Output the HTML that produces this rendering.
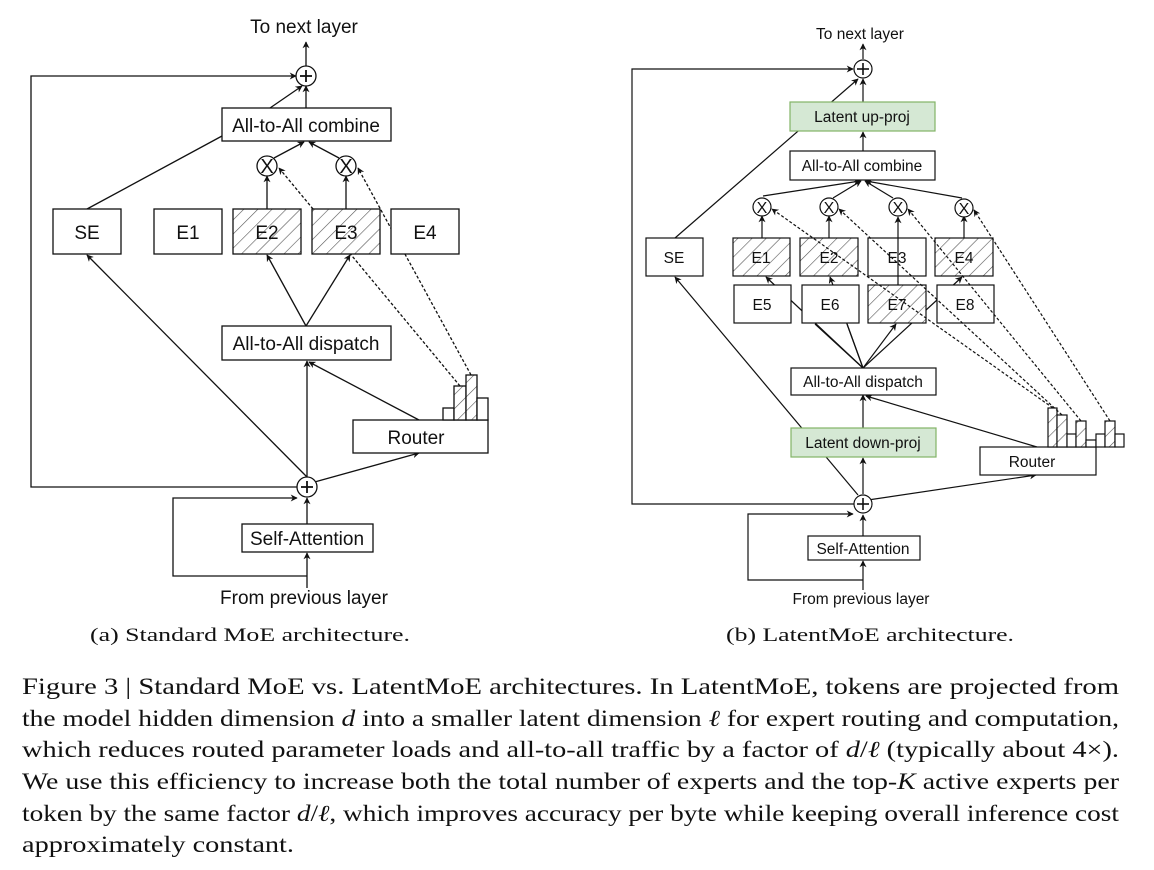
<!DOCTYPE html>
<html><head><meta charset="utf-8"><style>
html,body{margin:0;padding:0;background:#fff;}
svg{display:block;}
.s{font-family:"Liberation Sans",sans-serif;fill:#111;}
.t{font-family:"Liberation Serif",serif;fill:#111;font-size:23px;}
</style></head><body>
<svg width="1154" height="870" viewBox="0 0 1154 870" xmlns="http://www.w3.org/2000/svg">
<defs>
<marker id="a" viewBox="0 0 10 10" refX="9" refY="5" markerWidth="7" markerHeight="7" orient="auto-start-reverse" markerUnits="userSpaceOnUse">
<path d="M0,0 L10,5 L0,10 L3,5 z" fill="#111"/></marker>
<pattern id="h" patternUnits="userSpaceOnUse" width="10" height="10" patternTransform="rotate(45)">
<rect width="10" height="10" fill="#fff"/><line x1="0" y1="0" x2="0" y2="10" stroke="#555" stroke-width="1.2"/></pattern>
</defs>
<g stroke="#111" stroke-width="1.3" fill="none">
<line x1="306" y1="66" x2="306" y2="42" marker-end="url(#a)"/>
<polyline points="306,487 31,487 31,76 296,76" marker-end="url(#a)"/>
<line x1="87" y1="209" x2="222" y2="136"/>
<line x1="270" y1="108" x2="302" y2="86" marker-end="url(#a)"/>
<line x1="306" y1="108" x2="306" y2="86" marker-end="url(#a)"/>
<line x1="274" y1="158" x2="304" y2="142" marker-end="url(#a)"/>
<line x1="339" y1="158" x2="309" y2="142" marker-end="url(#a)"/>
<line x1="267" y1="209" x2="267" y2="176" marker-end="url(#a)"/>
<line x1="346" y1="209" x2="346" y2="176" marker-end="url(#a)"/>
<line x1="306" y1="326" x2="267" y2="255" marker-end="url(#a)"/>
<line x1="306" y1="326" x2="350" y2="255" marker-end="url(#a)"/>
<line x1="307" y1="477" x2="87" y2="255" marker-end="url(#a)"/>
<line x1="307" y1="477" x2="307" y2="361" marker-end="url(#a)"/>
<line x1="311" y1="483" x2="419" y2="453" marker-end="url(#a)"/>
<line x1="419" y1="420" x2="309" y2="362" marker-end="url(#a)"/>
<line x1="460" y1="386" x2="279" y2="168" stroke-dasharray="3,2" marker-end="url(#a)"/>
<line x1="471" y1="375" x2="358" y2="168" stroke-dasharray="3,2" marker-end="url(#a)"/>
<line x1="307" y1="524" x2="307" y2="498" marker-end="url(#a)"/>
<polyline points="307,576 173,576 173,498 297,498" marker-end="url(#a)"/>
<line x1="307" y1="588" x2="307" y2="553" marker-end="url(#a)"/>
</g>
<g stroke="#111" stroke-width="1.3">
<rect x="222" y="108" width="169" height="33" fill="#fff"/>
<rect x="53" y="209" width="68" height="45" fill="#fff"/>
<rect x="154" y="209" width="68" height="45" fill="#fff"/>
<rect x="233" y="209" width="68" height="45" fill="url(#h)"/>
<rect x="312" y="209" width="68" height="45" fill="url(#h)"/>
<rect x="391" y="209" width="68" height="45" fill="#fff"/>
<rect x="222" y="326" width="169" height="34" fill="#fff"/>
<rect x="353" y="420" width="135" height="33" fill="#fff"/>
<rect x="443" y="408" width="11" height="12" fill="#fff"/>
<rect x="454" y="386" width="12" height="34" fill="url(#h)"/>
<rect x="466" y="375" width="11" height="45" fill="url(#h)"/>
<rect x="477" y="398" width="11" height="22" fill="#fff"/>
<rect x="242" y="524" width="131" height="28" fill="#fff"/>
<circle cx="306" cy="76" r="10" fill="#fff"/>
<circle cx="307" cy="487" r="10" fill="#fff"/>
<circle cx="267" cy="166" r="10" fill="#fff"/>
<circle cx="346" cy="166" r="10" fill="#fff"/>
</g>
<g stroke="#111" stroke-width="1.8">
<line x1="300" y1="76" x2="312" y2="76"/><line x1="306" y1="70" x2="306" y2="82"/>
<line x1="301" y1="487" x2="313" y2="487"/><line x1="307" y1="481" x2="307" y2="493"/>
</g>
<g class="s" font-size="19" text-anchor="middle">
<text x="304" y="33">To next layer</text>
<text x="267" y="173" font-size="20">X</text><text x="346" y="173" font-size="20">X</text>
<text x="306" y="132">All-to-All combine</text>
<text x="87" y="239">SE</text><text x="188" y="239">E1</text><text x="267" y="239">E2</text><text x="346" y="239">E3</text><text x="425" y="239">E4</text>
<text x="306" y="350">All-to-All dispatch</text>
<text x="416" y="444">Router</text>
<text x="307" y="545">Self-Attention</text>
<text x="304" y="604">From previous layer</text>
</g>

<!-- RIGHT -->
<g stroke="#111" stroke-width="1.2" fill="none">
<line x1="863" y1="59" x2="863" y2="44" marker-end="url(#a)"/>
<polyline points="863,504 632,504 632,69 853,69" marker-end="url(#a)"/>
<line x1="675" y1="238" x2="858" y2="79" marker-end="url(#a)"/>
<line x1="863" y1="102" x2="863" y2="79" marker-end="url(#a)"/>
<line x1="863" y1="151" x2="863" y2="132" marker-end="url(#a)"/>
<line x1="763" y1="196" x2="860" y2="181" marker-end="url(#a)"/>
<line x1="833" y1="198" x2="861" y2="181" marker-end="url(#a)"/>
<line x1="893" y1="198" x2="865" y2="181" marker-end="url(#a)"/>
<line x1="962" y1="198" x2="866" y2="181" marker-end="url(#a)"/>
<line x1="762" y1="238" x2="762" y2="216" marker-end="url(#a)"/>
<line x1="829" y1="238" x2="829" y2="216" marker-end="url(#a)"/>
<line x1="964" y1="238" x2="964" y2="216" marker-end="url(#a)"/>
<line x1="863" y1="368" x2="766" y2="277" marker-end="url(#a)"/>
<line x1="863" y1="368" x2="830" y2="277" marker-end="url(#a)"/>
<line x1="863" y1="368" x2="962" y2="277" marker-end="url(#a)"/>
<line x1="863" y1="368" x2="815" y2="324"/>
<line x1="863" y1="368" x2="847" y2="324"/>
<line x1="863" y1="368" x2="896" y2="324" marker-end="url(#a)"/>
<line x1="858" y1="495" x2="675" y2="277" marker-end="url(#a)"/>
<line x1="863" y1="494" x2="863" y2="458" marker-end="url(#a)"/>
<line x1="863" y1="428" x2="863" y2="395" marker-end="url(#a)"/>
<line x1="868" y1="500" x2="1036" y2="475" marker-end="url(#a)"/>
<line x1="1037" y1="447" x2="866" y2="396" marker-end="url(#a)"/>
<line x1="863" y1="536" x2="863" y2="515" marker-end="url(#a)"/>
<polyline points="863,580 748,580 748,514 853,514" marker-end="url(#a)"/>
<line x1="863" y1="590" x2="863" y2="561" marker-end="url(#a)"/>
</g>
<g stroke="#111" stroke-width="1.2">
<rect x="790" y="102" width="145" height="29" fill="#d5e8d4" stroke="#82b366"/>
<rect x="790" y="151" width="145" height="29" fill="#fff"/>
<rect x="646" y="238" width="57" height="38" fill="#fff"/>
<rect x="733" y="238" width="57" height="38" fill="url(#h)"/>
<rect x="800" y="238" width="58" height="38" fill="url(#h)"/>
<rect x="868" y="238" width="58" height="38" fill="#fff"/>
<rect x="935" y="238" width="58" height="38" fill="url(#h)"/>
<rect x="734" y="285" width="57" height="38" fill="#fff"/>
<rect x="802" y="285" width="57" height="38" fill="#fff"/>
<rect x="868" y="285" width="58" height="38" fill="url(#h)"/>
<rect x="937" y="285" width="57" height="38" fill="#fff"/>
<rect x="791" y="368" width="145" height="27" fill="#fff"/>
<rect x="791" y="428" width="145" height="29" fill="#d5e8d4" stroke="#82b366"/>
<rect x="980" y="447" width="116" height="28" fill="#fff"/>
<rect x="808" y="536" width="112" height="24" fill="#fff"/>
<rect x="1048" y="408" width="9" height="39" fill="url(#h)"/>
<rect x="1057" y="415" width="10" height="32" fill="url(#h)"/>
<rect x="1067" y="434" width="9" height="13" fill="#fff"/>
<rect x="1076" y="421" width="10" height="26" fill="url(#h)"/>
<rect x="1086" y="440" width="10" height="7" fill="#fff"/>
<rect x="1096" y="434" width="9" height="13" fill="#fff"/>
<rect x="1105" y="421" width="10" height="26" fill="url(#h)"/>
<rect x="1115" y="434" width="9" height="13" fill="#fff"/>
<circle cx="863" cy="69" r="9" fill="#fff"/>
<circle cx="863" cy="504" r="9" fill="#fff"/>
<circle cx="762" cy="207" r="9" fill="#fff"/>
<circle cx="829" cy="207" r="9" fill="#fff"/>
<circle cx="898" cy="207" r="9" fill="#fff"/>
<circle cx="964" cy="208" r="9" fill="#fff"/>
</g>
<g stroke="#111" stroke-width="1.2" fill="none">
<line x1="898" y1="285" x2="898" y2="217" marker-end="url(#a)"/>
<line x1="1053" y1="408" x2="772" y2="209" stroke-dasharray="3,2" marker-end="url(#a)"/>
<line x1="1062" y1="415" x2="839" y2="209" stroke-dasharray="3,2" marker-end="url(#a)"/>
<line x1="1081" y1="421" x2="908" y2="209" stroke-dasharray="3,2" marker-end="url(#a)"/>
<line x1="1110" y1="421" x2="974" y2="210" stroke-dasharray="3,2" marker-end="url(#a)"/>
</g>
<g stroke="#111" stroke-width="1.6">
<line x1="857" y1="69" x2="869" y2="69"/><line x1="863" y1="63" x2="863" y2="75"/>
<line x1="857" y1="504" x2="869" y2="504"/><line x1="863" y1="498" x2="863" y2="510"/>
</g>
<g class="s" font-size="15.5" text-anchor="middle">
<text x="860" y="39">To next layer</text>
<text x="862" y="122">Latent up-proj</text>
<text x="862" y="171">All-to-All combine</text>
<text x="762" y="213" font-size="16">X</text><text x="829" y="213" font-size="16">X</text><text x="898" y="213" font-size="16">X</text><text x="964" y="214" font-size="16">X</text>
<text x="674" y="263">SE</text><text x="761" y="263">E1</text><text x="829" y="263">E2</text><text x="897" y="263">E3</text><text x="964" y="263">E4</text>
<text x="762" y="310">E5</text><text x="830" y="310">E6</text><text x="897" y="310">E7</text><text x="965" y="310">E8</text>
<text x="863" y="387">All-to-All dispatch</text>
<text x="863" y="448">Latent down-proj</text>
<text x="1032" y="467">Router</text>
<text x="863" y="554">Self-Attention</text>
<text x="861" y="604">From previous layer</text>
</g>

<g class="t">
<text x="250" y="641" text-anchor="middle" font-size="19" textLength="320" lengthAdjust="spacingAndGlyphs">(a) Standard MoE architecture.</text>
<text x="870" y="641" text-anchor="middle" font-size="19" textLength="288" lengthAdjust="spacingAndGlyphs">(b) LatentMoE architecture.</text>
<text x="22" y="694" textLength="1097" lengthAdjust="spacingAndGlyphs">Figure 3 | Standard MoE vs. LatentMoE architectures. In LatentMoE, tokens are projected from</text>
<text x="22" y="726" textLength="1097" lengthAdjust="spacingAndGlyphs">the model hidden dimension <tspan font-style="italic">d</tspan> into a smaller latent dimension <tspan font-style="italic">ℓ</tspan> for expert routing and computation,</text>
<text x="22" y="757" textLength="1097" lengthAdjust="spacingAndGlyphs">which reduces routed parameter loads and all-to-all traffic by a factor of <tspan font-style="italic">d</tspan>/<tspan font-style="italic">ℓ</tspan> (typically about 4×).</text>
<text x="22" y="789" textLength="1097" lengthAdjust="spacingAndGlyphs">We use this efficiency to increase both the total number of experts and the top-<tspan font-style="italic">K</tspan> active experts per</text>
<text x="22" y="821" textLength="1097" lengthAdjust="spacingAndGlyphs">token by the same factor <tspan font-style="italic">d</tspan>/<tspan font-style="italic">ℓ</tspan>, which improves accuracy per byte while keeping overall inference cost</text>
<text x="22" y="852" textLength="272" lengthAdjust="spacingAndGlyphs">approximately constant.</text>
</g>
</svg>
</body></html>
